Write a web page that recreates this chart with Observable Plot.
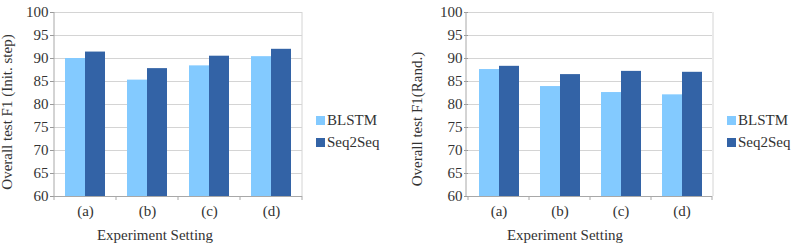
<!DOCTYPE html>
<html>
<head>
<meta charset="utf-8">
<script src="https://cdn.jsdelivr.net/npm/d3@7"></script>
<script src="https://cdn.jsdelivr.net/npm/@observablehq/plot@0.6"></script>
<style>
  html, body { margin: 0; padding: 0; background: #fff; }
  #wrap { position: relative; width: 799px; height: 248px; overflow: hidden; font-family: "Liberation Serif", "Times New Roman", serif; color: #333; }
  .panel { position: absolute; top: 0; }
  .ylab { position: absolute; white-space: nowrap; font-size: 15px; line-height: 17px; transform: translate(-50%, -50%) rotate(-90deg); }
  .xlab { position: absolute; white-space: nowrap; font-size: 15px; line-height: 17px; transform: translateX(-50%); }
  .legend { position: absolute; font-size: 15px; line-height: 22px; }
  .legend .item { display: flex; align-items: center; height: 22px; }
  .legend .sw { width: 9px; height: 9px; margin-right: 2px; }
  svg [aria-label^="y-axis"] line, svg [aria-label="y-axis tick"] path { stroke: #999; }
</style>
</head>
<body>
<div id="wrap"></div>
<script>
const cats = ["(a)", "(b)", "(c)", "(d)"];
const series = ["BLSTM", "Seq2Seq"];
const initBLSTM = [90.0, 85.3, 88.4, 90.4];
const initSeq2Seq = [91.4, 87.8, 90.5, 92.0];
const randBLSTM = [87.6, 83.9, 82.6, 82.1];
const randSeq2Seq = [88.3, 86.5, 87.2, 87.0];
const yTicks = [60, 65, 70, 75, 80, 85, 90, 95, 100];
const yLabels = ["Overall test F1 (Init. step)", "Overall test F1(Rand.)"];
const xLabel = "Experiment Setting";
const colors = ["#83caff", "#3363a6"];

const wrap = document.getElementById("wrap");

function chart(bl, sq, opts) {
  const rows = cats.flatMap((c, i) => [
    {cat: c, series: series[0], value: bl[i]},
    {cat: c, series: series[1], value: sq[i]}
  ]);
  const W = opts.width, ML = opts.marginLeft, MR = 8, MT = 12, MB = 52;
  const plot = Plot.plot({
    width: W, height: 248,
    marginLeft: ML, marginRight: MR, marginTop: MT, marginBottom: MB,
    style: {fontFamily: "Liberation Serif, Times New Roman, serif", fontSize: "15px", color: "#333", background: "transparent", overflow: "visible"},
    facet: {data: rows, x: "cat"},
    fx: {domain: cats, padding: 0, label: null, tickSize: 0, tickPadding: 9},
    x: {domain: series, paddingInner: 0, paddingOuter: 0.512, axis: null},
    y: {domain: [60, 100], ticks: yTicks, clamp: true, label: null, tickSize: 4, tickPadding: 2},
    color: {domain: series, range: colors},
    marks: [
      Plot.ruleY(yTicks, {stroke: "#d4d4d4"}),
      Plot.barY(rows, {x: "series", y: "value", fill: "series"}),
      Plot.ruleY([60], {stroke: "#a8a8a8"})
    ]
  });
  // frame lines and category boundary ticks, positioned from the plot's own scales
  const y = plot.scale("y");
  const y0 = y.apply(60), y1 = y.apply(100);
  const svg = d3.select(plot);
  let edges;
  try {
    const fx = plot.scale("fx");
    edges = cats.map(c => fx.apply(c));
    edges.push(fx.apply(cats[cats.length - 1]) + fx.bandwidth);
  } catch (e) {
    const step = (W - ML - MR) / cats.length;
    edges = d3.range(cats.length + 1).map(i => ML + i * step);
  }
  const g = svg.append("g");
  g.append("line").attr("x1", ML).attr("x2", ML).attr("y1", y1).attr("y2", y0).attr("stroke", "#a8a8a8");
  g.append("line").attr("x1", W - MR).attr("x2", W - MR).attr("y1", y1).attr("y2", y0).attr("stroke", "#d4d4d4");
  edges.forEach(e => g.append("line").attr("x1", e).attr("x2", e).attr("y1", y0).attr("y2", y0 + 4).attr("stroke", "#a8a8a8"));
  const panel = document.createElement("div");
  panel.className = "panel";
  panel.style.left = opts.left + "px";
  panel.appendChild(plot);
  wrap.appendChild(panel);

  const yl = document.createElement("div");
  yl.className = "ylab";
  yl.textContent = opts.yLabel;
  yl.style.left = opts.yLabX + "px";
  yl.style.top = opts.yLabY + "px";
  wrap.appendChild(yl);

  const xl = document.createElement("div");
  xl.className = "xlab";
  xl.textContent = xLabel;
  xl.style.left = opts.xLabX + "px";
  xl.style.top = "227px";
  wrap.appendChild(xl);

  const lg = document.createElement("div");
  lg.className = "legend";
  lg.style.left = opts.legX + "px";
  lg.style.top = "109px";
  series.forEach((s, i) => {
    const it = document.createElement("div");
    it.className = "item";
    const sw = document.createElement("div");
    sw.className = "sw";
    sw.style.background = colors[i];
    const t = document.createElement("span");
    t.textContent = s;
    it.appendChild(sw); it.appendChild(t);
    lg.appendChild(it);
  });
  wrap.appendChild(lg);
}

chart(initBLSTM, initSeq2Seq, {left: 0, width: 310, marginLeft: 54, yLabel: yLabels[0], yLabX: 7, yLabY: 112, xLabX: 155, legX: 316});
chart(randBLSTM, randSeq2Seq, {left: 400, width: 321, marginLeft: 66, yLabel: yLabels[1], yLabX: 417, yLabY: 119, xLabX: 565, legX: 727});
</script>
</body>
</html>
